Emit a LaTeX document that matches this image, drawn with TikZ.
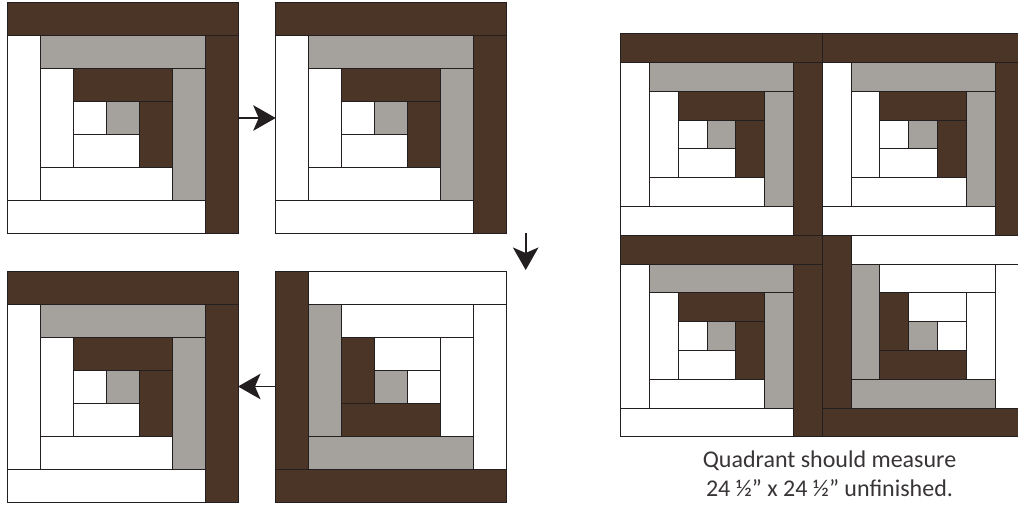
\documentclass[tikz,border=0pt]{standalone}
\usepackage{fontspec}
\setmainfont{Carlito}
\usetikzlibrary{arrows.meta}
\definecolor{logbrown}{HTML}{4A3527}
\definecolor{loggrey}{HTML}{A5A29D}
\definecolor{logline}{HTML}{231F20}
\tikzset{
  piece/.style={draw=logline,line width=0.9pt,line join=miter},
  brownpiece/.style={piece,fill=logbrown},
  greypiece/.style={piece,fill=loggrey},
  whitepiece/.style={piece,fill=white},
  flowarrow/.style={draw=logline,line width=1.7pt,-{Stealth[length=22.5pt,width=25.5pt,inset=5.5pt,fill=logline]}},
  blockarea/.style={minimum size=#1,inner sep=0pt,outer sep=0pt},
  caption/.style={align=center,font=\fontsize{24}{29}\selectfont,text=logline!90!white,inner sep=0pt}
}
% origin corner x, y, unit along x, unit along y (reversed units turn the block by 180 degrees)
\newcommand{\logblock}[4]{%
  \begin{scope}[shift={(#1,#2)},x=#3pt,y=#4pt]
    \path[whitepiece] (0,6) rectangle (6,7);
    \path[whitepiece] (0,1) rectangle (1,6);
    \path[greypiece]  (1,1) rectangle (6,2);
    \path[greypiece]  (5,2) rectangle (6,6);
    \path[whitepiece] (1,5) rectangle (5,6);
    \path[whitepiece] (1,2) rectangle (2,5);
    \path[brownpiece] (2,2) rectangle (5,3);
    \path[brownpiece] (4,3) rectangle (5,5);
    \path[whitepiece] (2,4) rectangle (4,5);
    \path[whitepiece] (2,3) rectangle (3,4);
    \path[greypiece]  (3,3) rectangle (4,4);
    \path[brownpiece] (6,1) rectangle (7,7);
    \path[brownpiece] (0,0) rectangle (7,1);
  \end{scope}}
\begin{document}
\begin{tikzpicture}[x=1pt,y=-1pt]
  \useasboundingbox (0,0) rectangle (1018,504);
  \clip (0,0) rectangle (1018,504);
  \fill[white] (0,0) rectangle (1018,504);
  % the four steps
  \logblock{7}{2.5}{33}{-33}
  \logblock{275.7}{2.5}{33}{-33}
  \logblock{7}{271}{33}{-33}
  \logblock{506.7}{502}{-33}{33}
  % the quadrant
  \logblock{620.7}{33.7}{28.8}{-28.8}
  \logblock{822.2}{33.7}{28.8}{-28.8}
  \logblock{620.7}{235.3}{28.8}{-28.8}
  \logblock{1023.8}{436.9}{-28.8}{28.8}
  % block areas, for the connectors
  \node[blockarea=231pt] (blockA) at (122.5,118) {};
  \node[blockarea=231pt] (blockB) at (391.2,118) {};
  \node[blockarea=231pt] (blockC) at (122.5,386.5) {};
  \node[blockarea=231pt] (blockD) at (391.2,386.5) {};
  \coordinate (downstart) at (525.7,233.3);
  \coordinate (downend) at (525.7,270);
  \draw[flowarrow] (blockA.east) -- (blockB.west);
  \draw[flowarrow] (downstart) -- (downend);
  \draw[flowarrow] (blockD.west) -- (blockC.east);
  \node[caption] (note) at (829.5,474) {Quadrant should measure\\24 ½” x 24 ½” unfinished.};
\end{tikzpicture}
\end{document}
